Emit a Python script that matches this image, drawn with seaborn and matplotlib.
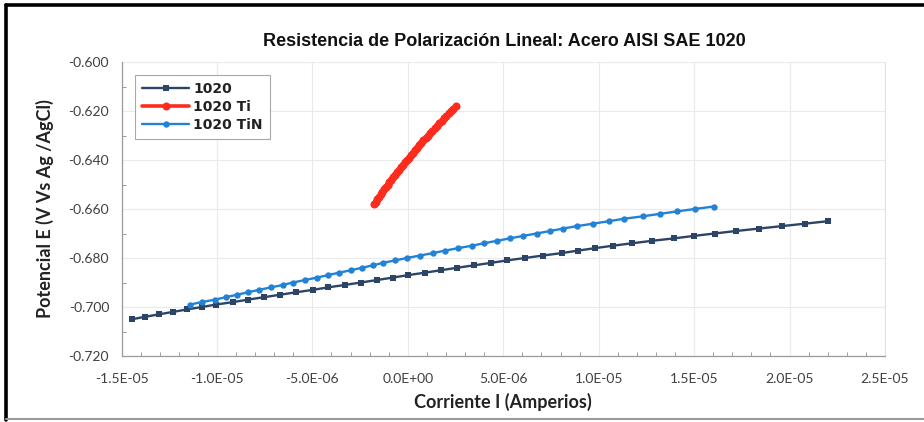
import matplotlib
matplotlib.use("Agg")
import matplotlib.pyplot as plt
from matplotlib.lines import Line2D
from matplotlib.ticker import FuncFormatter, MultipleLocator
import numpy as np
import pandas as pd
import seaborn as sns

# ---------------- data ----------------
series_names = ["1020", "1020 Ti", "1020 TiN"]

# 1020 : current in microamperes, potential in V
i_1020_uA = [-14.45, -13.77, -13.04, -12.30, -11.57, -10.79, -10.05, -9.16, -8.38, -7.54,
             -6.70, -5.86, -4.97, -4.19, -3.30, -2.46, -1.62, -0.79, 0.00, 0.89,
             1.73, 2.57, 3.46, 4.35, 5.18, 6.13, 7.07, 8.06, 8.90, 9.79,
             10.73, 11.73, 12.78, 13.93, 14.97, 16.07, 17.17, 18.38, 19.58, 20.79,
             21.99]
e_1020 = [-0.705, -0.704, -0.703, -0.702, -0.701, -0.700, -0.699, -0.698, -0.697, -0.696,
          -0.695, -0.694, -0.693, -0.692, -0.691, -0.690, -0.689, -0.688, -0.687, -0.686,
          -0.685, -0.684, -0.683, -0.682, -0.681, -0.680, -0.679, -0.678, -0.677, -0.676,
          -0.675, -0.674, -0.673, -0.672, -0.671, -0.670, -0.669, -0.668, -0.667, -0.666,
          -0.665]

# 1020 Ti
i_ti_uA = [-1.78, -1.69, -1.61, -1.52, -1.43, -1.33, -1.24, -1.15, -1.06, -0.96,
           -0.86, -0.77, -0.67, -0.57, -0.47, -0.37, -0.26, -0.16, -0.05, 0.05,
           0.16, 0.27, 0.38, 0.49, 0.60, 0.71, 0.82, 0.94, 1.05, 1.17,
           1.29, 1.41, 1.53, 1.65, 1.77, 1.89, 2.01, 2.14, 2.26, 2.39,
           2.52]
e_ti = [-0.658, -0.657, -0.656, -0.655, -0.654, -0.653, -0.652, -0.651, -0.650, -0.649,
        -0.648, -0.647, -0.646, -0.645, -0.644, -0.643, -0.642, -0.641, -0.640, -0.639,
        -0.638, -0.637, -0.636, -0.635, -0.634, -0.633, -0.632, -0.631, -0.630, -0.629,
        -0.628, -0.627, -0.626, -0.625, -0.624, -0.623, -0.622, -0.621, -0.620, -0.619,
        -0.618]

# 1020 TiN
i_tin_uA = [-11.41, -10.79, -10.11, -9.53, -8.95, -8.38, -7.80, -7.17, -6.55, -6.02,
            -5.39, -4.76, -4.19, -3.61, -2.98, -2.41, -1.83, -1.31, -0.68, -0.05,
            0.63, 1.31, 1.94, 2.62, 3.35, 3.98, 4.66, 5.34, 6.02, 6.75,
            7.44, 8.12, 8.85, 9.69, 10.52, 11.31, 12.30, 13.19, 14.08, 15.03,
            16.02]
e_tin = [-0.699, -0.698, -0.697, -0.696, -0.695, -0.694, -0.693, -0.692, -0.691, -0.690,
         -0.689, -0.688, -0.687, -0.686, -0.685, -0.684, -0.683, -0.682, -0.681, -0.680,
         -0.679, -0.678, -0.677, -0.676, -0.675, -0.674, -0.673, -0.672, -0.671, -0.670,
         -0.669, -0.668, -0.667, -0.666, -0.665, -0.664, -0.663, -0.662, -0.661, -0.660,
         -0.659]

x_ticks = [-1.5e-5, -1.0e-5, -5.0e-6, 0.0, 5.0e-6, 1.0e-5, 1.5e-5, 2.0e-5, 2.5e-5]
y_ticks = [-0.720, -0.700, -0.680, -0.660, -0.640, -0.620, -0.600]

title = "Resistencia de Polarización Lineal: Acero AISI SAE 1020"
x_label = "Corriente I (Amperios)"
y_label = "Potencial E (V Vs Ag /AgCl)"

# ---------------- build table ----------------
frames = []
for name, cur, pot in [(series_names[0], i_1020_uA, e_1020),
                       (series_names[1], i_ti_uA, e_ti),
                       (series_names[2], i_tin_uA, e_tin)]:
    frames.append(pd.DataFrame({"I": np.array(cur) * 1e-6, "E": pot, "serie": name}))
df = pd.concat(frames, ignore_index=True)

# ---------------- style ----------------
sns.set_theme(style="white")
plt.rcParams["font.family"] = ["Lato", "DejaVu Sans"]

palette = {"1020": "#2C4566", "1020 Ti": "#FF2B1C", "1020 TiN": "#2282D6"}
markers = {"1020": "s", "1020 Ti": "o", "1020 TiN": "o"}

fig = plt.figure(figsize=(9.24, 4.22), dpi=100)
ax = fig.add_axes([121.5 / 924, 66 / 422, 763.5 / 924, 294 / 422])

sns.lineplot(data=df, x="I", y="E", hue="serie", style="serie", hue_order=series_names,
             style_order=series_names, palette=palette, markers=markers, dashes=False,
             sort=False, estimator=None, ax=ax, linewidth=1.7,
             markersize=4.6, markeredgewidth=0)

# thicker look of the dense Ti trace
for line in ax.get_lines():
    if line.get_color() in ("#FF2B1C", "#ff2b1c"):
        line.set_markersize(5.8)
        line.set_linewidth(2.6)

ax.set_xlim(x_ticks[0], x_ticks[-1])
ax.set_ylim(y_ticks[0], y_ticks[-1])
ax.set_xticks(x_ticks)
ax.set_yticks(y_ticks)
ax.xaxis.set_minor_locator(MultipleLocator(1e-6))
ax.yaxis.set_minor_locator(MultipleLocator(0.01))
ax.xaxis.set_major_formatter(FuncFormatter(lambda v, p: f"{v:.1E}"))
ax.yaxis.set_major_formatter(FuncFormatter(lambda v, p: f"{v:.3f}"))

ax.grid(True, which="major", color="#EAEAEA", linewidth=0.8)
ax.set_axisbelow(True)
for side in ["left", "bottom"]:
    ax.spines[side].set_color("#9A9A9A")
    ax.spines[side].set_linewidth(0.9)
ax.spines["right"].set_color("#E2E2E2")
ax.spines["right"].set_linewidth(0.8)
ax.spines["top"].set_visible(False)

ax.tick_params(axis="both", which="major", direction="out", length=4, width=0.8,
               color="#9A9A9A", labelsize=10, labelcolor="#404040")
ax.tick_params(axis="x", which="major", pad=8)
ax.tick_params(axis="y", which="major", pad=5)
ax.tick_params(axis="both", which="minor", direction="in", length=3, width=0.7,
               color="#9A9A9A", bottom=True, left=True)

ax.set_xlabel(x_label, fontsize=13, fontweight="bold", color="#222222", labelpad=6)
ax.set_ylabel(y_label, fontsize=13, fontweight="bold", color="#222222", labelpad=10)

fig.text(504 / 924, 1 - 42 / 422, title, ha="center", va="center",
         fontsize=13, fontweight="bold", color="#111111",
         family=["Liberation Sans", "DejaVu Sans"])

handles, labels = ax.get_legend_handles_labels()
leg = ax.legend(handles, labels, loc="upper left", bbox_to_anchor=(0.0177, 0.956),
                borderaxespad=0, frameon=True, fancybox=False, edgecolor="#A8A8A8",
                framealpha=1, handlelength=3.4, handletextpad=0.3, borderpad=0.5,
                labelspacing=0.3, prop={"family": "DejaVu Sans", "weight": "bold", "size": 10})
leg.get_frame().set_linewidth(0.8)
leg._legend_box.align = "left"
for t in leg.get_texts():
    t.set_color("#222222")

# outer frame of the picture
fig.add_artist(Line2D([6 / 924, 6 / 924], [2 / 422, 1 - 5 / 422], transform=fig.transFigure,
                      color="black", linewidth=2.6))
fig.add_artist(Line2D([6 / 924, 1.0], [1 - 5 / 422, 1 - 5 / 422], transform=fig.transFigure,
                      color="black", linewidth=2.6))
fig.add_artist(Line2D([6 / 924, 1.0], [3 / 422, 3 / 422], transform=fig.transFigure,
                      color="#9A9A9A", linewidth=1.5))

fig.savefig("out.png", dpi=100)
